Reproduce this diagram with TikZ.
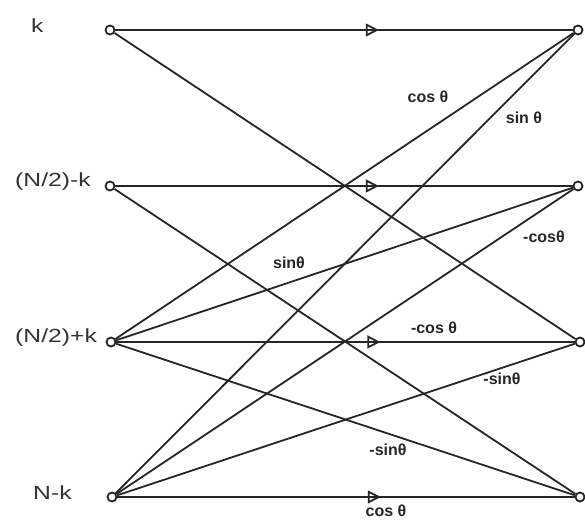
\documentclass[tikz,border=0pt]{standalone}
\usepackage{fontspec}
\setmainfont{Liberation Sans}
\usetikzlibrary{arrows.meta,decorations.markings}
\begin{document}
\begin{tikzpicture}[x=1pt,y=-1pt,
  port/.style={circle,draw=black!85,line width=1.8pt,inner sep=0pt,minimum size=9pt,fill=white},
  wire/.style={line width=1.8pt,draw=black!85},
  flow/.style={wire,postaction={decorate},decoration={markings,mark=at position 0.576 with {\arrow{Triangle[open,length=13pt,width=13pt]}}}},
  coef/.style={text=black!85,font=\bfseries\fontsize{16}{18}\selectfont,inner sep=0pt},
  lab/.style={text=black!80,anchor=west,inner sep=0pt,font=\fontsize{19}{21}\selectfont}]
\useasboundingbox (0,0) rectangle (585,521);

% input ports
\node[port] (L1) at (110,30) {};
\node[port] (L2) at (110,186) {};
\node[port] (L3) at (111,342) {};
\node[port] (L4) at (112,497) {};
% output ports
\node[port] (R1) at (578,30) {};
\node[port] (R2) at (578,186) {};
\node[port] (R3) at (580,342) {};
\node[port] (R4) at (580,497) {};

% input labels
\node[lab] (tk)  at (31,26)  {\scalebox{1.3}[1]{k}};
\node[lab] (tn1) at (15,182) {\scalebox{1.3}[1]{(N/2)-k}};
\node[lab] (tn2) at (15,338) {\scalebox{1.3}[1]{(N/2)+k}};
\node[lab] (tn3) at (33,493) {\scalebox{1.3}[1]{N-k}};

% horizontal branches
\draw[flow] (L1) -- (R1);
\draw[flow] (L2) -- (R2);
\draw[flow] (L3) -- (R3);
\draw[flow] (L4) -- (R4);

% diagonal branches
\draw[wire] (L1) -- (R3);
\draw[wire] (L2) -- (R4);
\draw[wire] (L3) -- (R1);
\draw[wire] (L3) -- (R2);
\draw[wire] (L3) -- (R4);
\draw[wire] (L4) -- (R1);
\draw[wire] (L4) -- (R2);
\draw[wire] (L4) -- (R3);

% coefficients
\node[coef] (c1) at (428,97)  {cos θ};
\node[coef] (c2) at (524,118) {sin θ};
\node[coef] (c3) at (544,237) {-cosθ};
\node[coef] (c4) at (289,263) {sinθ};
\node[coef] (c5) at (434,328) {-cos θ};
\node[coef] (c6) at (502,379) {-sinθ};
\node[coef] (c7) at (388,450) {-sinθ};
\node[coef] (c8) at (386,511) {cos θ};
\end{tikzpicture}
\end{document}
